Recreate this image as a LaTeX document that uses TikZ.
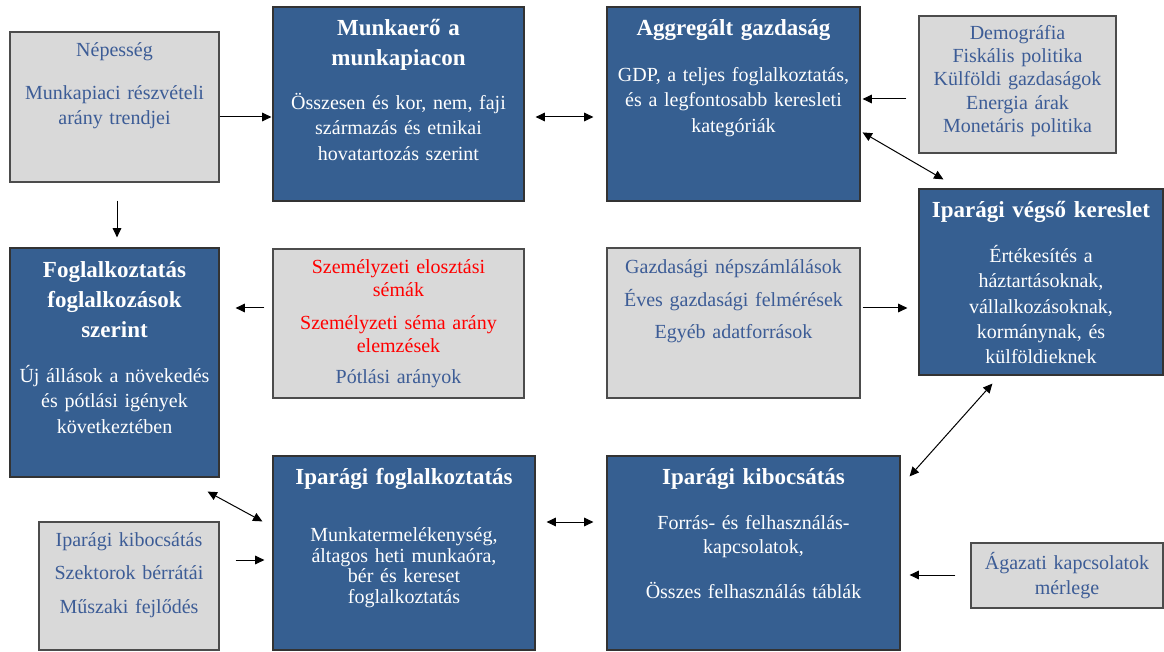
\documentclass[tikz,border=0pt]{standalone}
\usepackage{fontspec}
\setmainfont{Liberation Serif}
\usetikzlibrary{arrows.meta,calc,fit}
\definecolor{boxblue}{RGB}{54,95,145}
\definecolor{boxgray}{RGB}{217,217,217}
\definecolor{txtblue}{RGB}{60,92,150}
\definecolor{txtred}{RGB}{255,0,0}
\begin{document}
\begin{tikzpicture}[x=0.75pt,y=-0.75pt,
  bluebox/.style={draw=black!80, line width=0.9pt, fill=boxblue, inner sep=0pt},
  graybox/.style={draw=black!70, line width=0.9pt, fill=boxgray, inner sep=0pt},
  ttl/.style={anchor=base, align=center, inner sep=0pt, text=white, font=\fontsize{17.25}{22.5}\selectfont\bfseries},
  wtxt/.style={anchor=base, align=center, inner sep=0pt, text=white, font=\fontsize{15}{19}\selectfont},
  gtxt/.style={anchor=base, align=center, inner sep=0pt, text=txtblue, font=\fontsize{15}{18.75}\selectfont},
  arr/.style={-{Triangle[length=7pt,width=6.5pt]}, line width=0.75pt},
  darr/.style={{Triangle[length=7pt,width=6.5pt]}-{Triangle[length=7pt,width=6.5pt]}, line width=0.75pt}]
\useasboundingbox (0,0) rectangle (1164,652);

% boxes
\node[graybox, fit={(10,32)(219,182)}] (nep) {};
\node[bluebox, fit={(273,7)(524,201)}] (mun) {};
\node[bluebox, fit={(607,7)(860,201)}] (agg) {};
\node[graybox, fit={(919,16)(1116,153)}] (demo) {};
\node[bluebox, fit={(919,189)(1163,375)}] (veg) {};
\node[bluebox, fit={(10,248)(219,477)}] (fog) {};
\node[graybox, fit={(273,249)(524,398)}] (sze) {};
\node[graybox, fit={(607,248)(860,398)}] (gaz) {};
\node[bluebox, fit={(273,456)(535,650)}] (ifo) {};
\node[bluebox, fit={(607,456)(900,650)}] (ikb) {};
\node[graybox, fit={(39,522)(219,650)}] (gbl) {};
\node[graybox, fit={(971,543)(1163,608)}] (aga) {};

% texts
\node[gtxt, text width=156pt] (nepT) at (114.5,56.5) {Népesség\\[13.5pt] Munkapiaci részvételi\\ arány trendjei};

\node[ttl, text width=188pt] (munT) at (398.5,35.5) {Munkaerő a\\ munkapiacon};
\node[wtxt, text width=188pt] (munB) at (398.5,109.5) {Összesen és kor, nem, faji\\ származás és etnikai\\ hovatartozás szerint};

\node[ttl, text width=190pt] (aggT) at (733.5,35.5) {Aggregált gazdaság};
\node[wtxt, text width=190pt] (aggB) at (733.5,81.5) {GDP, a teljes foglalkoztatás,\\ és a legfontosabb keresleti\\ kategóriák};

\node[gtxt, text width=148pt, font=\fontsize{15}{17.4}\selectfont] (demoT) at (1017.5,39.5) {Demográfia\\ Fiskális politika\\ Külföldi gazdaságok\\ Energia árak\\ Monetáris politika};

\node[ttl, text width=183pt] (vegT) at (1041,217.5) {Iparági végső kereslet};
\node[wtxt, text width=183pt] (vegB) at (1041,262.5) {Értékesítés a\\ háztartásoknak,\\ vállalkozásoknak,\\ kormánynak, és\\ külföldieknek};

\node[ttl, text width=156pt] (fogT) at (114.5,277.5) {Foglalkoztatás\\ foglalkozások\\ szerint};
\node[wtxt, text width=156pt] (fogB) at (114.5,382.5) {Új állások a növekedés\\ és pótlási igények\\ következtében};

\node[gtxt, text width=188pt, font=\fontsize{15}{17.5}\selectfont] (szeT) at (398.5,273.5) {\textcolor{txtred}{Személyzeti elosztási}\\ \textcolor{txtred}{sémák}\\[6.75pt] \textcolor{txtred}{Személyzeti séma arány}\\ \textcolor{txtred}{elemzések}\\[6pt] Pótlási arányok};

\node[gtxt, text width=190pt, font=\fontsize{15}{17.5}\selectfont] (gazT) at (733.5,273.5) {Gazdasági népszámlálások\\[7pt] Éves gazdasági felmérések\\[7pt] Egyéb adatforrások};

\node[ttl, text width=196pt] (ifoT) at (404,484.5) {Iparági foglalkoztatás};
\node[wtxt, text width=196pt, font=\fontsize{15}{15.5}\selectfont] (ifoB) at (404,541.5) {Munkatermelékenység,\\ áltagos heti munkaóra,\\ bér és kereset\\ foglalkoztatás};

\node[ttl, text width=220pt] (ikbT) at (753.5,484.5) {Iparági kibocsátás};
\node[wtxt, text width=220pt, font=\fontsize{15}{18}\selectfont] (ikbB) at (753.5,529.5) {Forrás- és felhasználás-\\ kapcsolatok,\\[15.75pt] Összes felhasználás táblák};

\node[gtxt, text width=135pt, font=\fontsize{15}{17.5}\selectfont] (gblT) at (129,546.5) {Iparági kibocsátás\\[7.5pt] Szektorok bérrátái\\[7.5pt] Műszaki fejlődés};

\node[gtxt, text width=144pt] (agaT) at (1067,569.5) {Ágazati kapcsolatok\\ mérlege};

% connectors
\draw[arr, shorten >=0.75pt] (nep.east |- 0,117) -- (mun.west |- 0,117);
\draw[darr, shorten <=8.25pt, shorten >=9.75pt] (mun.east |- 0,117) -- (agg.west |- 0,117);
\draw[arr, shorten <=9pt, shorten >=1.5pt] (demo.west |- 0,99) -- (agg.east |- 0,99);
\draw[darr] ($(agg.north east)+(2,126)$) -- ($(veg.north west)+(25,-9)$);
\draw[arr] ($(nep.south)+(2.5,18)$) -- ($(fog.north)+(2.5,-10)$);
\draw[arr, shorten <=6pt, shorten >=12pt] (sze.west |- 0,308) -- (fog.east |- 0,308);
\draw[arr, shorten <=1.5pt, shorten >=8.25pt] (gaz.east |- 0,308) -- (veg.west |- 0,308);
\draw[darr] ($(fog.south east)+(-12,14)$) -- ($(ifo.north west)+(-10,66)$);
\draw[arr, shorten <=12pt, shorten >=6pt] (gbl.east |- 0,560) -- (ifo.west |- 0,560);
\draw[darr, shorten <=8.25pt, shorten >=9.75pt] (ifo.east |- 0,522) -- (ikb.west |- 0,522);
\draw[darr] ($(ikb.north east)+(9,21)$) -- ($(veg.south west)+(74,8)$);
\draw[arr, shorten <=11.25pt, shorten >=6.75pt] (aga.west |- 0,575) -- (ikb.east |- 0,575);
\end{tikzpicture}
\end{document}
